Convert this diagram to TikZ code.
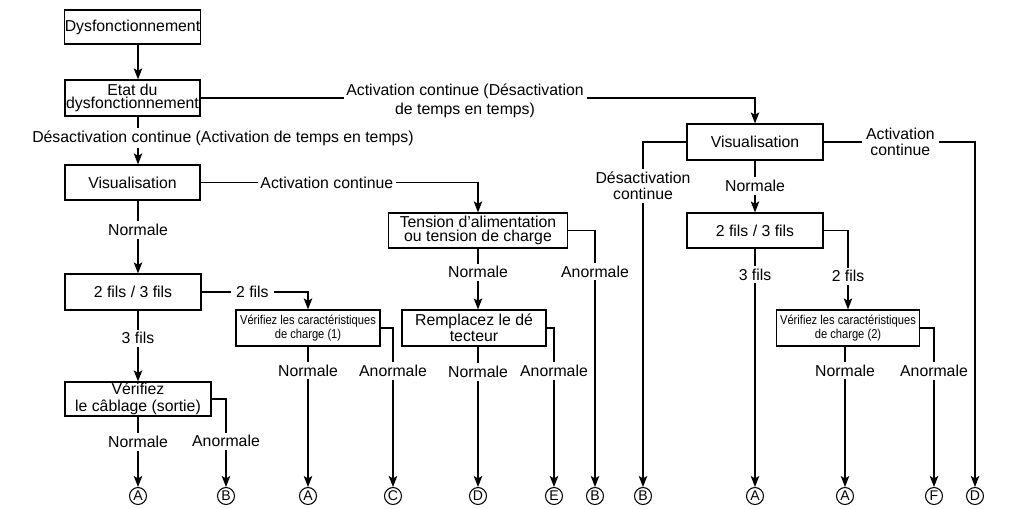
\documentclass[tikz,border=0pt]{standalone}
\usepackage{fontspec}
\setmainfont{Liberation Sans}
\newfontfamily\narrowf[FakeStretch=0.87]{Liberation Sans}
\usetikzlibrary{arrows.meta}
\begin{document}
\begin{tikzpicture}[x=0.02cm,y=-0.02cm,
  line width=0.7pt,
  box/.style={draw, inner sep=0pt, align=center, font=\fontsize{9}{9.2}\selectfont},
  sbox/.style={draw, inner sep=0pt, align=center, font=\narrowf\fontsize{7.3}{8.3}\selectfont},
  lbl/.style={fill=white, inner sep=1.6pt, align=center, font=\fontsize{9}{9.2}\selectfont},
  circ/.style={draw, circle, inner sep=0pt, minimum size=0.34cm, line width=0.6pt, font=\fontsize{8}{8}\selectfont},
  arr/.style={-{Stealth[length=0.22cm,width=0.17cm,inset=0.05cm]}},
  arrc/.style={arr}]
\useasboundingbox (0,0) rectangle (1018,508);

% boxes
\node[box, minimum width=2.7cm, minimum height=0.68cm] (dys) at (132.5,27) {Dysfonctionnement};
\node[box, minimum width=2.7cm, minimum height=0.72cm, font=\fontsize{9}{7.6}\selectfont] (etat) at (132.5,98) {Etat du\\dysfonctionnement};
\node[box, minimum width=2.7cm, minimum height=0.7cm] (vis1) at (132.5,182.5) {Visualisation};
\node[box, minimum width=2.72cm, minimum height=0.72cm] (fils1) at (133,292) {2 fils / 3 fils};
\node[box, minimum width=2.92cm, minimum height=0.68cm, font=\fontsize{9}{9.6}\selectfont] (cab) at (138,399) {Vérifiez\\le câblage (sortie)};
\node[sbox, minimum width=2.88cm, minimum height=0.72cm] (ver1) at (308,328) {Vérifiez les caractéristiques\\de charge (1)};
\node[box, minimum width=3.58cm, minimum height=0.7cm, font=\fontsize{9}{7.7}\selectfont] (tens) at (478,230.5) {Tension d’alimentation\\ou tension de charge};
\node[box, minimum width=2.88cm, minimum height=0.72cm] (rem) at (474,328) {Remplacez le dé\\tecteur};
\node[box, minimum width=2.72cm, minimum height=0.72cm] (vis2) at (755,142) {Visualisation};
\node[box, minimum width=2.72cm, minimum height=0.7cm] (fils2) at (755,230.5) {2 fils / 3 fils};
\node[sbox, minimum width=2.86cm, minimum height=0.72cm] (ver2) at (848,328) {Vérifiez les caractéristiques\\de charge (2)};

% terminals
\node[circ] (A1) at (138,496) {A};
\node[circ] (B1) at (226,496) {B};
\node[circ] (A2) at (308,496) {A};
\node[circ] (C)  at (393,496) {C};
\node[circ] (D1) at (478,496) {D};
\node[circ] (E)  at (554,496) {E};
\node[circ] (B2) at (595,496) {B};
\node[circ] (B3) at (643,496) {B};
\node[circ] (A3) at (755,496) {A};
\node[circ] (A4) at (845,496) {A};
\node[circ] (F)  at (934,496) {F};
\node[circ] (D2) at (975,496) {D};

% left column
\draw[arr] (dys.south -| A1) -- (etat.north -| A1);
\draw[arr] (etat.south -| A1) -- node[lbl, pos=0.45, xshift=1.7cm] {Désactivation continue (Activation de temps en temps)} (vis1.north -| A1);
\draw[arr] (vis1.south -| A1) -- node[lbl, pos=0.405] {Normale} (fils1.north -| A1);
\draw[arr] (fils1.south -| A1) -- node[lbl, pos=0.39] {3 fils} (cab.north);
\draw[arrc] (cab.south) -- node[lbl, pos=0.36] {Normale} (A1.north);
\draw[arrc] (cab.east) -- (cab.east -| B1) -- node[lbl, pos=0.48] {Anormale} (B1.north);

% etat -> vis2
\draw[arr] (etat.east) -- node[lbl, pos=0.477, yshift=-0.06cm, font=\fontsize{9}{10.8}\selectfont] {Activation continue (Désactivation\\de temps en temps)} (etat.east -| vis2.north) -- (vis2.north);

% vis1 -> tension
\draw[arr] (vis1.east) -- node[lbl, pos=0.455] {Activation continue} (vis1.east -| tens.north) -- (tens.north);
\draw[arrc] (tens.east) -- (tens.east -| B2) -- node[lbl, pos=0.16] {Anormale} (B2.north);
\draw[arr] (tens.south) -- node[lbl, pos=0.39] {Normale} (rem.north -| tens.south);
\draw[arrc] (rem.south -| D1) -- node[lbl, pos=0.18] {Normale} (D1.north);
\draw[arrc] (rem.east) -- (rem.east -| E) -- node[lbl, pos=0.27] {Anormale} (E.north);

% fils1 -> ver1
\draw[arr] (fils1.east) -- node[lbl, pos=0.477, inner sep=3pt] {2 fils} (fils1.east -| ver1.north) -- (ver1.north);
\draw[arrc] (ver1.south) -- node[lbl, pos=0.17] {Normale} (A2.north);
\draw[arrc] (ver1.east) -- (ver1.east -| C) -- node[lbl, pos=0.27] {Anormale} (C.north);

% right part
\draw[arrc] (vis2.west) -- (vis2.west -| B3) -- node[lbl, pos=0.127, font=\fontsize{9}{9.1}\selectfont] {Désactivation\\continue} (B3.north);
\draw[arrc] (vis2.east) -- node[lbl, pos=0.507, inner sep=2.5pt, font=\fontsize{9}{9.1}\selectfont] {Activation\\continue} (vis2.east -| D2) -- (D2.north);
\draw[arr] (vis2.south) -- node[lbl, pos=0.49] {Normale} (fils2.north);
\draw[arrc] (fils2.south) -- node[lbl, pos=0.11] {3 fils} (A3.north);
\draw[arr] (fils2.east) -- (fils2.east -| ver2.north) -- node[lbl, pos=0.58] {2 fils} (ver2.north);
\draw[arrc] (ver2.south -| A4) -- node[lbl, pos=0.17] {Normale} (A4.north);
\draw[arrc] (ver2.east) -- (ver2.east -| F) -- node[lbl, pos=0.27] {Anormale} (F.north);
\end{tikzpicture}
\end{document}
